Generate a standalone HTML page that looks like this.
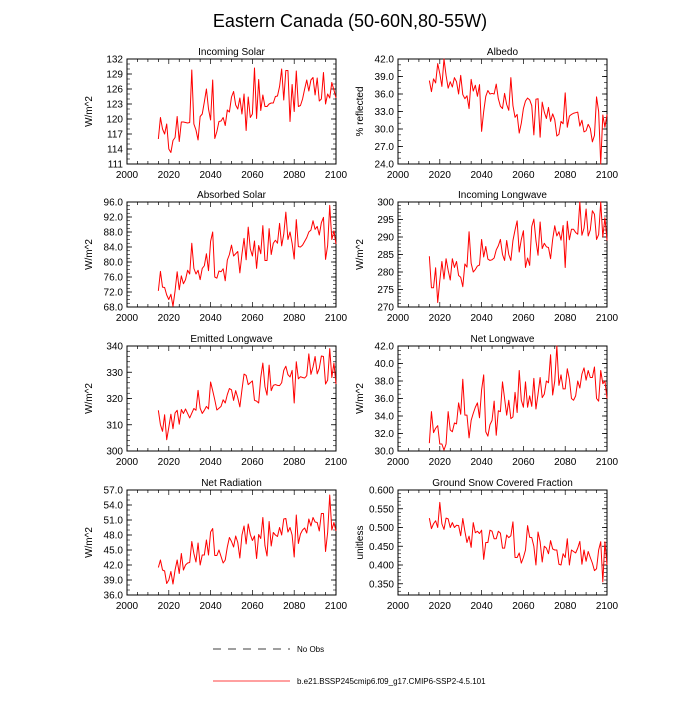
<!DOCTYPE html>
<html><head><meta charset="utf-8"><style>
html,body{margin:0;padding:0;background:#fff;}
svg{font-family:"Liberation Sans",sans-serif;}
</style></head><body>
<svg id="chart" width="700" height="700" viewBox="0 0 700 700" xmlns="http://www.w3.org/2000/svg">
<text x="350" y="27" font-size="18" text-anchor="middle">Eastern Canada (50-60N,80-55W)</text>
<g id="panels"></g>
<g>
<line x1="213" y1="649" x2="290" y2="649" stroke="#000" stroke-width="0.8" stroke-dasharray="8,7"/>
<text x="297" y="652" font-size="8">No Obs</text>
<line x1="213" y1="681" x2="290" y2="681" stroke="#f00" stroke-width="0.8"/>
<text x="297" y="684" font-size="8">b.e21.BSSP245cmip6.f09_g17.CMIP6-SSP2-4.5.101</text>
</g>
</svg>
<script>
const startYear = 2015;
const xTicks = [2000, 2020, 2040, 2060, 2080, 2100];
const incomingSolar = [116,120.3,118,117,119,114,113.3,115.7,116.3,120.5,115.5,119.4,119.4,119.3,119.2,119.3,129.8,119,117.8,115.8,120.5,121,123.4,126,122,119.8,127.8,116.1,117.5,119.5,119.6,120.3,118.7,121.8,121.4,124.4,125.5,122.8,122,124.2,121,125,117.7,124.4,120.3,121,130.2,120.1,127.9,121.7,124.8,122.5,122.5,123,123.2,123.2,124.5,124.6,126.5,130,123.8,129.7,129.7,119.5,126.9,121.5,129.6,122.5,122.7,124,126,127.8,125.6,127.8,128.3,124.8,128.2,123.6,124,129.3,123,125,124.2,127.3,125.8,124.2];
const albedo = [38.3,36.4,38.6,37.9,41.2,39.5,37.3,42,39.2,37,38.1,37.2,38.8,38.1,36,39.2,35.9,35.2,35.7,33.5,38.5,36.5,37.5,35.6,37.6,29.6,33,35.6,36.6,36,36.1,36,37.7,35.2,33.9,33.5,36.1,34.2,33.2,38.8,34,32,32.5,29.3,31,33.5,34.8,35.3,35,34,29,35.1,35.2,28.6,34.6,32.9,31.8,33.7,31.3,32.6,31.6,28.8,29.1,31.3,30.9,36.2,30.3,32.2,32.5,32.7,32.8,32.9,30.5,31.5,29.5,29.7,30.8,30.1,27.8,28.9,35.5,33,24,32.4,30.3,32.5];
const absorbedSolar = [72.3,77.5,73.3,73.2,71.2,70,71.4,68.2,72.3,77.4,72.6,76.3,74.2,75.3,77.8,76.8,85,78.3,76.8,77.8,75.3,78.3,79,82.2,77.7,85.5,88,76,75.7,77.6,77.4,78.2,75,80.5,82,84.5,81.6,82.2,82.8,77.1,82.1,86.3,80.6,89.3,83.5,81.6,85.6,78.3,84.4,82.2,89.7,80.4,80.4,88.9,82,85,85.8,85,90.3,84.3,87.4,93.3,86,88,85,80.8,91.3,84.1,84,84.5,85.5,86.5,88,88.5,91,88.7,89.5,87.2,90.5,91.9,80.7,84.4,95.1,86,88.3,84.8];
const incomingLongwave = [284.5,275.5,275.5,281.2,271.3,277.5,283,278,283.8,280.5,277.7,283.8,281.3,283,279,278.5,275.8,282.3,281.4,291.5,282.5,280,280.7,281.7,282,289.3,284.3,287.3,283.7,283.3,283.5,284,286.3,287.5,289.3,285,283.3,289,285,283.3,289,292,294.6,285.7,289.3,291.8,281.3,284,281.9,293,295.1,289,284.8,294.3,286.7,288.2,287.2,287,283.8,289.3,293.2,290.3,291.5,289.1,293.3,281.3,294.5,289.2,292.2,292.2,291.3,290.8,300,290.5,292.5,298,290.3,292,297.5,296.5,289.3,290.7,300,290,295.5,289];
const emittedLongwave = [315.5,310,307.5,313.8,304.3,309,314,308.5,314.5,315.5,310.2,315.8,314.3,316,314.3,312.6,314.4,316.2,315.5,323.1,316.3,314.3,315.5,317,316,326.3,323,319.5,315.6,316.3,317,319.5,318.3,321.5,323.8,323.3,319.3,323,320.3,316.8,323.3,329.3,328.8,325.3,326,326.7,319.3,319,318.3,328,333.5,324.5,321.3,332.7,323,325,325.3,325,324.9,326,330.7,332.3,329.1,328.2,330.7,318.3,334,327.5,328.3,328,327.8,328.7,337,329.2,332,336,329.4,331.5,336.2,336,325.5,327,339,328,333.5,325.5];
const netLongwave = [30.9,34.5,32.1,32.6,32.9,30.8,30.8,30.1,30.8,34.5,32.4,32.2,33.2,33.1,35.5,34.2,38.2,34.1,34.1,31.5,33.5,34.3,35,35.5,33.8,37,38.7,32.2,31.7,33,33.5,35.7,31.8,34.6,34.5,37.9,36,34.1,35.8,33.7,33.9,36.7,34.4,39.2,35.8,35,37.9,35,36.3,35.1,38.3,34.8,36.5,38.4,36.1,36.5,38,37.8,41,36.4,38,42,37.5,38.7,37.1,37.1,39.4,38.2,36,35.8,36.3,38,37.2,38.8,39.5,38.1,39.2,38.4,38.4,39.6,36,35.7,39.2,37.7,38,36];
const netRadiation = [41.5,43,41,40.8,38.3,39,40.7,38.2,41,43,40.3,44.3,41,42,42.4,42.5,46.7,44.3,42.6,46.4,42,44,44,47,44,48.6,49.3,43.9,43.9,45,43.7,42.4,43,45.6,47.5,46.7,45.6,47.8,46.5,43.4,48,49.8,46.2,50.2,48.1,46.9,47.8,43.3,48.1,47.3,51.5,45.9,43.8,50.7,45.8,48.5,48,47.7,49.5,48,51.2,51.3,48.6,49.5,48,43.6,52,46.3,48.2,49,49.4,48.4,51.2,49.8,51.5,50.6,50.5,48.8,52.3,52.3,44.7,48.5,56,49,50.5,48.8];
const snowFraction = [0.525,0.497,0.51,0.518,0.5,0.567,0.51,0.495,0.525,0.523,0.5,0.513,0.5,0.506,0.505,0.478,0.524,0.49,0.46,0.477,0.447,0.513,0.486,0.49,0.484,0.493,0.415,0.46,0.46,0.493,0.49,0.47,0.47,0.49,0.485,0.445,0.445,0.48,0.473,0.478,0.515,0.42,0.42,0.432,0.405,0.42,0.44,0.505,0.474,0.473,0.45,0.4,0.488,0.462,0.408,0.45,0.445,0.43,0.465,0.443,0.44,0.44,0.402,0.4,0.43,0.42,0.47,0.4,0.44,0.436,0.432,0.445,0.463,0.402,0.44,0.41,0.436,0.42,0.405,0.385,0.39,0.44,0.462,0.355,0.462,0.4];
const ticksSolar = [111,114,117,120,123,126,129,132];
const ticksAlbedo = [24,27,30,33,36,39,42];
const ticksAbsorbed = [68,72,76,80,84,88,92,96];
const ticksLW = [270,275,280,285,290,295,300];
const ticksEmitted = [300,310,320,330,340];
const ticksNetLW = [30,32,34,36,38,40,42];
const ticksNetRad = [36,39,42,45,48,51,54,57];
const ticksSnow = [0.35,0.40,0.45,0.50,0.55,0.60];

const NS='http://www.w3.org/2000/svg';
const panels=[
 {name:'incoming-solar',title:'Incoming Solar',ylab:'W/m^2',d:incomingSolar,t:ticksSolar,min:111,max:132,minor:1,dec:0,x:127,y:59},
 {name:'albedo',title:'Albedo',ylab:'% reflected',d:albedo,t:ticksAlbedo,min:24,max:42,minor:1,dec:1,x:398,y:59},
 {name:'absorbed-solar',title:'Absorbed Solar',ylab:'W/m^2',d:absorbedSolar,t:ticksAbsorbed,min:68,max:96,minor:1,dec:1,x:127,y:202},
 {name:'incoming-longwave',title:'Incoming Longwave',ylab:'W/m^2',d:incomingLongwave,t:ticksLW,min:270,max:300,minor:1,dec:0,x:398,y:202},
 {name:'emitted-longwave',title:'Emitted Longwave',ylab:'W/m^2',d:emittedLongwave,t:ticksEmitted,min:300,max:340,minor:2,dec:0,x:127,y:346},
 {name:'net-longwave',title:'Net Longwave',ylab:'W/m^2',d:netLongwave,t:ticksNetLW,min:30,max:42,minor:0.5,dec:1,x:398,y:346},
 {name:'net-radiation',title:'Net Radiation',ylab:'W/m^2',d:netRadiation,t:ticksNetRad,min:36,max:57,minor:1,dec:1,x:127,y:490},
 {name:'snow-cover',title:'Ground Snow Covered Fraction',ylab:'unitless',d:snowFraction,t:ticksSnow,min:0.32,max:0.60,minor:0.01,dec:3,x:398,y:490}
];
const W=209,H=105;
function mk(tag,attrs,parent){const e=document.createElementNS(NS,tag);for(const k in attrs)e.setAttribute(k,attrs[k]);parent.appendChild(e);return e;}
const root=document.getElementById('panels');
panels.forEach(p=>{
 const g=mk('g',{},root);
 
 
 const xs=v=>p.x+(v-2000)/100*W;
 const ys=v=>p.y+H-(v-p.min)/(p.max-p.min)*H;
 const tt=mk('text',{x:p.x+W/2,y:p.y-4,'font-size':10,'text-anchor':'middle'},g);
 tt.textContent=p.title;
 
 
 const yl=mk('text',{x:0,y:0,'font-size':10,'text-anchor':'middle',transform:`translate(${p.x-35},${p.y+H/2}) rotate(-90)`},g);
 yl.textContent=p.ylab;
 
 
 // minor x ticks
 for(let yr=2000;yr<=2100;yr+=5){const X=xs(yr);const L=(yr%20===0)?5:3;
  mk('line',{x1:X,y1:p.y+H,x2:X,y2:p.y+H-L,stroke:'#000','stroke-width':0.7},g);
  mk('line',{x1:X,y1:p.y,x2:X,y2:p.y+L,stroke:'#000','stroke-width':0.7},g);}
 xTicks.forEach(v=>{const t=mk('text',{x:xs(v),y:p.y+H+14,'font-size':10,'text-anchor':'middle'},g);t.textContent=v;
  
  });
 // minor y ticks
 const n=Math.round((p.max-p.min)/p.minor);
 for(let i=0;i<=n;i++){const v=p.min+i*p.minor;const Y=ys(v);
  mk('line',{x1:p.x,y1:Y,x2:p.x+3,y2:Y,stroke:'#000','stroke-width':0.6},g);
  mk('line',{x1:p.x+W,y1:Y,x2:p.x+W-3,y2:Y,stroke:'#000','stroke-width':0.6},g);}
 p.t.forEach(v=>{const Y=ys(v);
  mk('line',{x1:p.x,y1:Y,x2:p.x+5,y2:Y,stroke:'#000','stroke-width':0.8},g);
  mk('line',{x1:p.x+W,y1:Y,x2:p.x+W-5,y2:Y,stroke:'#000','stroke-width':0.8},g);
  const t=mk('text',{x:p.x-4,y:Y+3.5,'font-size':10,'text-anchor':'end'},g);t.textContent=v.toFixed(p.dec);
  
  });
 const r=mk('rect',{x:p.x,y:p.y,width:W,height:H,fill:'none',stroke:'#000','stroke-width':1},g);
 
 
 const pts=p.d.map((v,i)=>xs(startYear+i).toFixed(2)+','+ys(v).toFixed(2)).join(' ');
 const pl=mk('polyline',{points:pts,fill:'none',stroke:'#f00','stroke-width':1,'stroke-linejoin':'round'},g);
 
 
});
</script>
</body></html>
